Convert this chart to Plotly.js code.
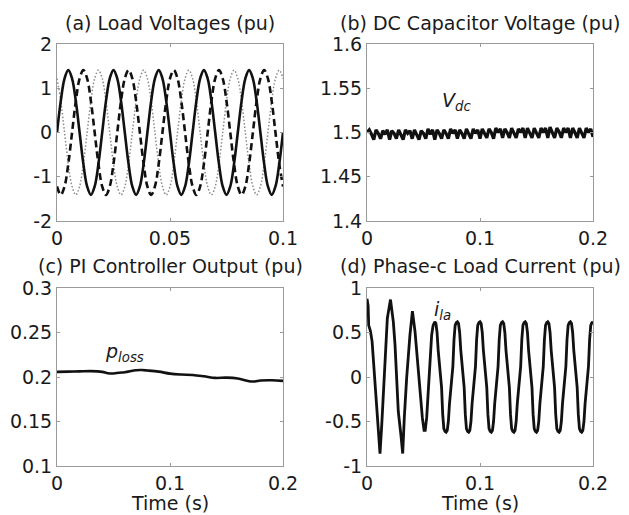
<!DOCTYPE html>
<html><head><meta charset="utf-8">
<script src="https://cdn.plot.ly/plotly-3.0.1.min.js"></script>
<style>html,body{margin:0;padding:0;background:#fff}#chart{width:629px;height:515px}</style>
</head><body><div id="chart"></div>
<script>
// (a) Load voltages
const tA = [0,0.00167,0.00333,0.005,0.00667,0.00833,0.01,0.01167,0.01333,0.015,0.01667,0.01833,
  0.02,0.02167,0.02333,0.025,0.02667,0.02833,0.03,0.03167,0.03333,0.035,0.03667,0.03833,
  0.04,0.04167,0.04333,0.045,0.04667,0.04833,0.05,0.05167,0.05333,0.055,0.05667,0.05833,
  0.06,0.06167,0.06333,0.065,0.06667,0.06833,0.07,0.07167,0.07333,0.075,0.07667,0.07833,
  0.08,0.08167,0.08333,0.085,0.08667,0.08833,0.09,0.09167,0.09333,0.095,0.09667,0.09833,0.1];
const vLa = [0,0.71,1.22,1.41,1.22,0.71,0,-0.71,-1.22,-1.41,-1.22,-0.71,
  0,0.71,1.22,1.41,1.22,0.71,0,-0.71,-1.22,-1.41,-1.22,-0.71,
  0,0.71,1.22,1.41,1.22,0.71,0,-0.71,-1.22,-1.41,-1.22,-0.71,
  0,0.71,1.22,1.41,1.22,0.71,0,-0.71,-1.22,-1.41,-1.22,-0.71,
  0,0.71,1.22,1.41,1.22,0.71,0,-0.71,-1.22,-1.41,-1.22,-0.71,0];
const vLb = [-1.22,-1.41,-1.22,-0.71,0,0.71,1.22,1.41,1.22,0.71,0,-0.71,
  -1.22,-1.41,-1.22,-0.71,0,0.71,1.22,1.41,1.22,0.71,0,-0.71,
  -1.22,-1.41,-1.22,-0.71,0,0.71,1.22,1.41,1.22,0.71,0,-0.71,
  -1.22,-1.41,-1.22,-0.71,0,0.71,1.22,1.41,1.22,0.71,0,-0.71,
  -1.22,-1.41,-1.22,-0.71,0,0.71,1.22,1.41,1.22,0.71,0,-0.71,-1.22];
const vLc = [1.22,0.71,0,-0.71,-1.22,-1.41,-1.22,-0.71,0,0.71,1.22,1.41,
  1.22,0.71,0,-0.71,-1.22,-1.41,-1.22,-0.71,0,0.71,1.22,1.41,
  1.22,0.71,0,-0.71,-1.22,-1.41,-1.22,-0.71,0,0.71,1.22,1.41,
  1.22,0.71,0,-0.71,-1.22,-1.41,-1.22,-0.71,0,0.71,1.22,1.41,
  1.22,0.71,0,-0.71,-1.22,-1.41,-1.22,-0.71,0,0.71,1.22,1.41,1.22];

// (b) DC capacitor voltage
const tDc = [0,0.002,0.004,0.006,0.008,0.01,0.012,0.014,0.016,0.018,0.02,0.022,0.024,0.026,0.028,0.03,0.032,0.034,0.036,0.038,
  0.04,0.042,0.044,0.046,0.048,0.05,0.052,0.054,0.056,0.058,0.06,0.062,0.064,0.066,0.068,0.07,0.072,0.074,0.076,0.078,
  0.08,0.082,0.084,0.086,0.088,0.09,0.092,0.094,0.096,0.098,0.1,0.102,0.104,0.106,0.108,0.11,0.112,0.114,0.116,0.118,
  0.12,0.122,0.124,0.126,0.128,0.13,0.132,0.134,0.136,0.138,0.14,0.142,0.144,0.146,0.148,0.15,0.152,0.154,0.156,0.158,
  0.16,0.162,0.164,0.166,0.168,0.17,0.172,0.174,0.176,0.178,0.18,0.182,0.184,0.186,0.188,0.19,0.192,0.194,0.196,0.198,0.2];
const vDc = [1.500,1.503,1.498,1.492,1.503,1.499,1.493,1.502,1.498,1.503,1.492,1.502,1.499,1.493,1.503,1.498,1.492,1.503,1.499,1.502,
  1.493,1.503,1.498,1.492,1.502,1.499,1.493,1.504,1.498,1.503,1.492,1.503,1.499,1.493,1.503,1.499,1.493,1.504,1.499,1.503,
  1.493,1.503,1.499,1.493,1.504,1.499,1.493,1.504,1.499,1.503,1.493,1.504,1.499,1.494,1.504,1.500,1.493,1.505,1.500,1.504,
  1.494,1.504,1.500,1.494,1.505,1.500,1.494,1.504,1.500,1.505,1.494,1.505,1.500,1.494,1.505,1.500,1.494,1.505,1.500,1.505,
  1.494,1.506,1.500,1.494,1.505,1.501,1.494,1.505,1.500,1.505,1.494,1.505,1.500,1.494,1.505,1.500,1.494,1.505,1.500,1.504,1.495];

// (c) PI controller output
const tLoss = [0,0.01,0.02,0.03,0.04,0.045,0.05,0.055,0.06,0.07,0.075,0.08,0.09,0.1,0.11,0.12,0.13,0.14,0.15,0.16,0.17,0.175,0.18,0.19,0.2];
const pLoss = [0.2058,0.2060,0.2063,0.2066,0.2058,0.2043,0.2040,0.2048,0.2053,0.2076,0.2078,0.2073,0.2060,0.2038,0.2028,0.2023,0.2008,0.1990,0.1993,0.1983,0.1953,0.1950,0.1960,0.1963,0.1956];

// (d) Phase-c load current
const tLa = [0,0.001,0.0015,0.003,0.0045,0.006,0.0075,0.0095,0.0115,0.013,0.0155,0.018,0.0208,0.0233,0.0248,0.0262,0.0277,0.0301,0.0316,
  0.033,0.0351,0.038,0.0402,0.0425,0.0448,0.0469,0.049,0.0505,0.0515,0.0528,0.0543,0.0558,0.0572,0.0585,
  0.06,0.061,0.062,0.063,0.064,0.065,0.066,0.067,0.068,0.069,0.07,0.071,0.072,0.073,0.074,0.075,0.076,0.077,0.078,0.079,
  0.08,0.081,0.082,0.083,0.084,0.085,0.086,0.087,0.088,0.089,0.09,0.091,0.092,0.093,0.094,0.095,0.096,0.097,0.098,0.099,
  0.1,0.101,0.102,0.103,0.104,0.105,0.106,0.107,0.108,0.109,0.11,0.111,0.112,0.113,0.114,0.115,0.116,0.117,0.118,0.119,
  0.12,0.121,0.122,0.123,0.124,0.125,0.126,0.127,0.128,0.129,0.13,0.131,0.132,0.133,0.134,0.135,0.136,0.137,0.138,0.139,
  0.14,0.141,0.142,0.143,0.144,0.145,0.146,0.147,0.148,0.149,0.15,0.151,0.152,0.153,0.154,0.155,0.156,0.157,0.158,0.159,
  0.16,0.161,0.162,0.163,0.164,0.165,0.166,0.167,0.168,0.169,0.17,0.171,0.172,0.173,0.174,0.175,0.176,0.177,0.178,0.179,
  0.18,0.181,0.182,0.183,0.184,0.185,0.186,0.187,0.188,0.189,0.19,0.191,0.192,0.193,0.194,0.195,0.196,0.197,0.198,0.199,0.2];
const iLa = [0.88,0.80,0.58,0.52,0.40,0.15,-0.10,-0.46,-0.86,-0.55,0.10,0.66,0.87,0.62,0.36,-0.01,-0.39,-0.66,-0.86,
  -0.46,-0.01,0.47,0.74,0.51,0.17,-0.17,-0.46,-0.60,-0.60,-0.46,-0.17,0.13,0.47,0.58,
  0.62,0.60,0.50,0.30,0.18,0.08,-0.12,-0.42,-0.58,-0.61,-0.62,-0.60,-0.50,-0.30,-0.18,-0.08,0.12,0.42,0.58,0.61,
  0.62,0.60,0.50,0.30,0.18,0.08,-0.12,-0.42,-0.58,-0.61,-0.62,-0.60,-0.50,-0.30,-0.18,-0.08,0.12,0.42,0.58,0.61,
  0.62,0.60,0.50,0.30,0.18,0.08,-0.12,-0.42,-0.58,-0.61,-0.62,-0.60,-0.50,-0.30,-0.18,-0.08,0.12,0.42,0.58,0.61,
  0.62,0.60,0.50,0.30,0.18,0.08,-0.12,-0.42,-0.58,-0.61,-0.62,-0.60,-0.50,-0.30,-0.18,-0.08,0.12,0.42,0.58,0.61,
  0.62,0.60,0.50,0.30,0.18,0.08,-0.12,-0.42,-0.58,-0.61,-0.62,-0.60,-0.50,-0.30,-0.18,-0.08,0.12,0.42,0.58,0.61,
  0.62,0.60,0.50,0.30,0.18,0.08,-0.12,-0.42,-0.58,-0.61,-0.62,-0.60,-0.50,-0.30,-0.18,-0.08,0.12,0.42,0.58,0.61,
  0.62,0.60,0.50,0.30,0.18,0.08,-0.12,-0.42,-0.58,-0.61,-0.62,-0.60,-0.50,-0.30,-0.18,-0.08,0.12,0.42,0.58,0.61,0.62];

// titles and tick labels
const panelTitles = ['(a) Load Voltages (pu)','(b) DC Capacitor Voltage (pu)','(c) PI Controller Output (pu)','(d) Phase-c Load Current (pu)'];
const xLabel = 'Time (s)';
const aXTicks = [0,0.05,0.1], aXText = ['0','0.05','0.1'];
const tXTicks = [0,0.1,0.2], tXText = ['0','0.1','0.2'];
const aYTicks = [-2,-1,0,1,2], aYText = ['-2','-1','0','1','2'];
const bYTicks = [1.4,1.45,1.5,1.55,1.6], bYText = ['1.4','1.45','1.5','1.55','1.6'];
const cYTicks = [0.1,0.15,0.2,0.25,0.3], cYText = ['0.1','0.15','0.2','0.25','0.3'];
const dYTicks = [-1,-0.5,0,0.5,1], dYText = ['-1','-0.5','0','0.5','1'];

const FONT = 'DejaVu Sans, Arial, sans-serif';
const INK = '#1a1a1a';
function ax(domain, range, tv, tt, anchor) {
  return {domain: domain, range: range, tickvals: tv, ticktext: tt, anchor: anchor,
    showline: true, mirror: 'ticks', linecolor: '#9a9a9a', linewidth: 1,
    ticks: 'inside', ticklen: 3, tickcolor: '#9a9a9a', showgrid: false, zeroline: false,
    tickfont: {family: FONT, size: 19, color: INK}, fixedrange: true};
}
const xL = [57/629, 283/629], xR = [367/629, 593/629];
const yT = [1-221/515, 1-44/515], yB = [1-466/515, 1-288/515];

const traces = [
  {x: tA, y: vLc, xaxis: 'x', yaxis: 'y', mode: 'lines', line: {color: '#8a8a8a', width: 1.5, dash: '1.5px,2px', shape: 'spline'}},
  {x: tA, y: vLb, xaxis: 'x', yaxis: 'y', mode: 'lines', line: {color: '#111', width: 2.6, dash: '7px,4px', shape: 'spline'}},
  {x: tA, y: vLa, xaxis: 'x', yaxis: 'y', mode: 'lines', line: {color: '#111', width: 2.6, shape: 'spline'}},
  {x: tDc, y: vDc, xaxis: 'x2', yaxis: 'y2', mode: 'lines', line: {color: '#111', width: 3.2}},
  {x: tLoss, y: pLoss, xaxis: 'x3', yaxis: 'y3', mode: 'lines', line: {color: '#111', width: 2.6, shape: 'spline'}},
  {x: tLa, y: iLa, xaxis: 'x4', yaxis: 'y4', mode: 'lines', line: {color: '#111', width: 2.8}}
];

const titleFont = {family: FONT, size: 19, color: INK};
const annotations = [
  {text: panelTitles[0], xref: 'paper', yref: 'paper', x: 170/629, y: 1-23/515, showarrow: false, font: titleFont, xanchor: 'center', yanchor: 'middle'},
  {text: panelTitles[1], xref: 'paper', yref: 'paper', x: 480/629, y: 1-23/515, showarrow: false, font: titleFont, xanchor: 'center', yanchor: 'middle'},
  {text: panelTitles[2], xref: 'paper', yref: 'paper', x: 170/629, y: 1-266/515, showarrow: false, font: titleFont, xanchor: 'center', yanchor: 'middle'},
  {text: panelTitles[3], xref: 'paper', yref: 'paper', x: 480/629, y: 1-266/515, showarrow: false, font: titleFont, xanchor: 'center', yanchor: 'middle'},
  {text: xLabel, xref: 'paper', yref: 'paper', x: 170/629, y: 1-503/515, showarrow: false, font: titleFont, xanchor: 'center', yanchor: 'middle'},
  {text: xLabel, xref: 'paper', yref: 'paper', x: 480/629, y: 1-503/515, showarrow: false, font: titleFont, xanchor: 'center', yanchor: 'middle'},
  {text: '<i>V<sub>dc</sub></i>', xref: 'x2', yref: 'y2', x: 0.079, y: 1.535, showarrow: false, font: titleFont},
  {text: '<i>p<sub>loss</sub></i>', xref: 'x3', yref: 'y3', x: 0.060, y: 0.227, showarrow: false, font: titleFont},
  {text: '<i>i<sub>la</sub></i>', xref: 'x4', yref: 'y4', x: 0.0664, y: 0.747, showarrow: false, font: titleFont}
];

const layout = {
  width: 629, height: 515, margin: {l: 0, r: 0, t: 0, b: 0},
  paper_bgcolor: '#fff', plot_bgcolor: '#fff', showlegend: false,
  font: {family: FONT, color: INK},
  xaxis: ax(xL, [0, 0.1], aXTicks, aXText, 'y'),
  yaxis: ax(yT, [-2, 2], aYTicks, aYText, 'x'),
  xaxis2: ax(xR, [0, 0.2], tXTicks, tXText, 'y2'),
  yaxis2: ax(yT, [1.4, 1.6], bYTicks, bYText, 'x2'),
  xaxis3: ax(xL, [0, 0.2], tXTicks, tXText, 'y3'),
  yaxis3: ax(yB, [0.1, 0.3], cYTicks, cYText, 'x3'),
  xaxis4: ax(xR, [0, 0.2], tXTicks, tXText, 'y4'),
  yaxis4: ax(yB, [-1, 1], dYTicks, dYText, 'x4'),
  annotations: annotations
};
Plotly.newPlot('chart', traces, layout, {displayModeBar: false, staticPlot: true});
</script></body></html>
